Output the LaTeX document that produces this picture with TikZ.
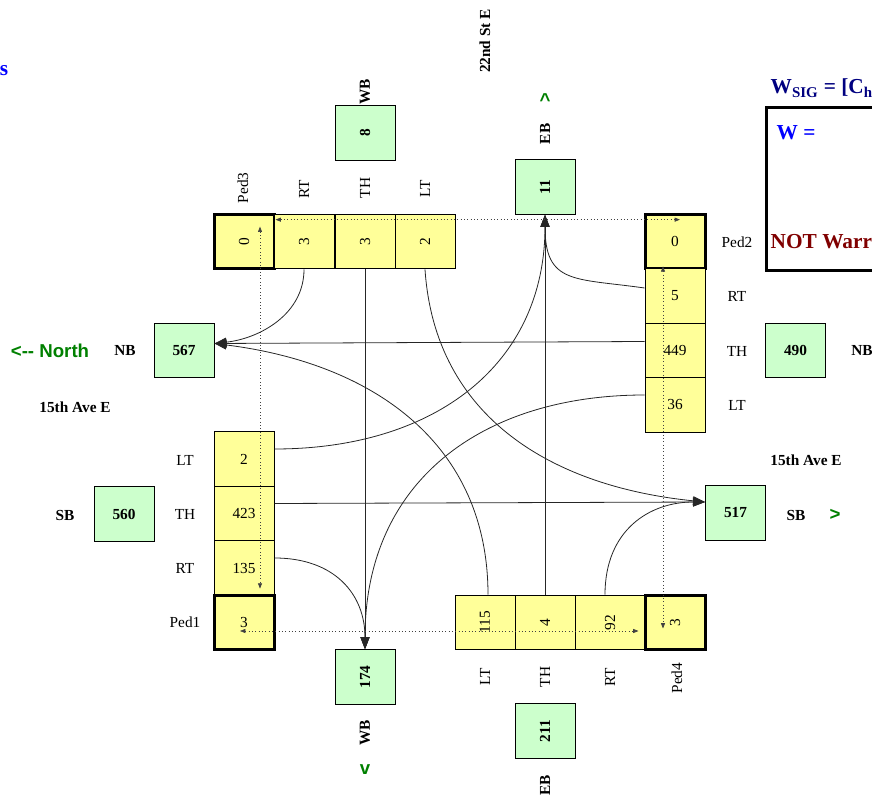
\documentclass[tikz,border=0pt]{standalone}
\usepackage{fontspec}
\setmainfont{Liberation Serif}
\setsansfont{Liberation Sans}
\usetikzlibrary{arrows.meta, calc}

\definecolor{cellyellow}{HTML}{FFFF99}
\definecolor{totgreen}{HTML}{CCFFCC}
\definecolor{roadgreen}{HTML}{008000}
\definecolor{warnred}{HTML}{800000}
\definecolor{sigblue}{HTML}{000080}
\definecolor{wblue}{HTML}{0000FF}

\begin{document}
\begin{tikzpicture}[x=0.75pt, y=-0.75pt,
  cell/.style={draw, fill=cellyellow, line width=0.75pt, minimum width=45pt, minimum height=41pt, inner sep=0pt, font=\fontsize{11.5}{13}\selectfont},
  pedcell/.style={cell, line width=2.25pt},
  total/.style={draw, fill=totgreen, line width=0.75pt, minimum width=45pt, minimum height=41pt, inner sep=0pt, font=\fontsize{11.5}{13}\selectfont\bfseries},
  lbl/.style={font=\fontsize{11.5}{13}\selectfont},
  road/.style={font=\fontsize{11.5}{13}\selectfont\bfseries},
  pointer/.style={font=\fontsize{14}{16}\selectfont\sffamily\bfseries, text=roadgreen},
  move/.style={-{Triangle[length=9pt,width=6.75pt]}, line width=0.6pt, black!85},
  ped/.style={{Triangle[length=4pt,width=3pt]}-{Triangle[length=4pt,width=3pt]}, dotted, line width=0.5pt, black!75}]
  \useasboundingbox (0,0) rectangle (872,798);
  \clip (0,0) rectangle (872,798);
  % Cut-off heading
  \node[font=\fontsize{16}{18}\selectfont\bfseries, text=wblue] (headtail) at (4,71) {s};
  % Street names and pointers
  \node[road, rotate=90] (stname) at (485,41) {22nd St E};
  \node[road] (aveleft) at (75,407) {15th Ave E};
  \node[road] (averight) at (806,460) {15th Ave E};
  \node[pointer] (north) at (50,351) {<-{}- North};
  \node[pointer] (ptup) at (545,100) {\textasciicircum};
  \node[pointer] (ptdown) at (365,770) {v};
  \node[pointer] (ptright) at (835,515) {>};
  % Top approach
  \node[pedcell] (tPed) at (244,241.5) {\rotatebox{90}{0}};
  \node[cell] (tRT) at (304,241.5) {\rotatebox{90}{3}};
  \node[cell] (tTH) at (365,241.5) {\rotatebox{90}{3}};
  \node[cell] (tLT) at (425,241.5) {\rotatebox{90}{2}};
  \node[lbl, rotate=90] at (243,188) {Ped3};
  \node[lbl, rotate=90] at (304,189) {RT};
  \node[lbl, rotate=90] at (365,188) {TH};
  \node[lbl, rotate=90] at (425,189) {LT};
  % Right approach
  \node[pedcell] (rPed) at (675,241.5) {0};
  \node[cell] (rRT) at (675,296) {5};
  \node[cell] (rTH) at (675,350.5) {449};
  \node[cell] (rLT) at (675,405) {36};
  \node[lbl] at (737,242) {Ped2};
  \node[lbl] at (737,296) {RT};
  \node[lbl] at (737,351) {TH};
  \node[lbl] at (737,405) {LT};
  % Left approach
  \node[cell] (lLT) at (244,459) {2};
  \node[cell] (lTH) at (244,513.5) {423};
  \node[cell] (lRT) at (244,568) {135};
  \node[pedcell] (lPed) at (244,622.5) {3};
  \node[lbl] at (185,460) {LT};
  \node[lbl] at (185,514) {TH};
  \node[lbl] at (185,568) {RT};
  \node[lbl] at (185,622) {Ped1};
  % Bottom approach
  \node[cell] (bLT) at (485,622.5) {\rotatebox{90}{115}};
  \node[cell] (bTH) at (545,622.5) {\rotatebox{90}{4}};
  \node[cell, minimum width=52.5pt] (bRT) at (610,622.5) {\rotatebox{90}{92}};
  \node[pedcell] (bPed) at (675,622.5) {\rotatebox{90}{3}};
  \node[lbl, rotate=90] at (485,677) {LT};
  \node[lbl, rotate=90] at (545,677) {TH};
  \node[lbl, rotate=90] at (610,677) {RT};
  \node[lbl, rotate=90] at (677,678) {Ped4};
  % Totals
  \node[total] (wb8) at (365,133) {\rotatebox{90}{8}};
  \node[road, rotate=90] at (365,92) {WB};
  \node[total] (eb11) at (545,187) {\rotatebox{90}{11}};
  \node[road, rotate=90] at (545,134) {EB};
  \node[total] (nb567) at (184,350.5) {567};
  \node[road] at (125,351) {NB};
  \node[total] (nb490) at (795.5,350.5) {490};
  \node[road] at (862,351) {NB};
  \node[total] (sb560) at (124,514) {560};
  \node[road] at (65,515) {SB};
  \node[total] (sb517) at (735.5,513) {517};
  \node[road] at (796,515) {SB};
  \node[total] (wb174) at (365,677) {\rotatebox{90}{174}};
  \node[road, rotate=90] at (365,733) {WB};
  \node[total] (eb211) at (545,731) {\rotatebox{90}{211}};
  \node[road, rotate=90] at (545,785) {EB};
  % Warrant box
  \node[font=\fontsize{16}{18}\selectfont\bfseries, text=sigblue, anchor=west] (wsig) at (766,88) {W\textsubscript{SIG} = [C\textsubscript{h}};
  \node[draw, line width=2.25pt, anchor=north west, minimum width=150pt, minimum height=122pt] (warrant) at (765,106) {};
  \node[font=\fontsize{16}{18}\selectfont\bfseries, text=wblue, anchor=west] (weq) at (772,133) {W =};
  \node[font=\fontsize{16}{18}\selectfont\bfseries, text=warnred, anchor=west] (notwarr) at (766,242) {NOT Warr};
  % Top approach movements
  \draw[move] (tRT.south) .. controls +(0,45) and +(45,-5) .. ($(nb567.east)+(0,-7)$);
  \draw[move] (tTH.south) -- (wb174.north);
  \draw[move] (tLT.south) .. controls +(10,150) and +(-150,-15) .. ($(sb517.west)+(0,-11)$);
  % Right approach movements
  \draw[move] ($(rRT.west)+(0,-8)$) .. controls +(-70,-10) and +(0,70) .. (eb11.south);
  \draw[move] ($(rTH.west)+(0,-9)$) -- ($(nb567.east)+(0,-7)$);
  \draw[move] ($(rLT.west)+(0,-10)$) .. controls +(-160,0) and +(0,-170) .. (wb174.north);
  % Left approach movements
  \draw[move] ($(lLT.east)+(0,-10)$) .. controls +(160,0) and +(0,150) .. (eb11.south);
  \draw[move] ($(lTH.east)+(0,-10)$) -- ($(sb517.west)+(0,-11)$);
  \draw[move] ($(lRT.east)+(0,-10)$) .. controls +(60,0) and +(0,-55) .. (wb174.north);
  % Bottom approach movements
  \draw[move] ($(bLT.north)+(3,0)$) .. controls +(0,-150) and +(160,20) .. ($(nb567.east)+(0,-7)$);
  \draw[move] (bTH.north) -- (eb11.south);
  \draw[move] ($(bRT.north)+(-5,0)$) .. controls +(0,-65) and +(-55,0) .. ($(sb517.west)+(0,-11)$);
  % Pedestrian crossings
  \draw[ped] ($(tPed.north east)+(0,7)$) -- ($(rPed.north)+(5,7)$);
  \draw[ped] ($(tPed.north)+(16,14)$) -- ($(lPed.north)+(16,-5)$);
  \draw[ped] ($(lPed.center)+(-4,8.5)$) -- ($(bPed.west)+(-5,8.5)$);
  \draw[ped] ($(rPed.south)+(-12,-4)$) -- ($(bPed.center)+(-12,6)$);
\end{tikzpicture}
\end{document}
